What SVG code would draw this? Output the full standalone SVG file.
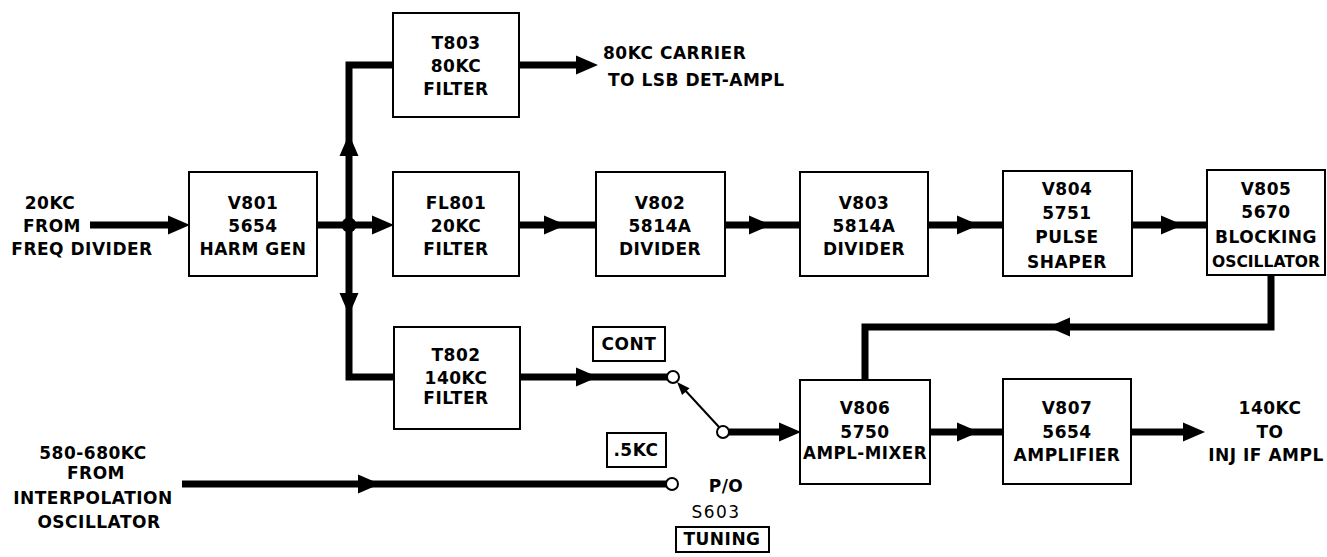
<svg xmlns="http://www.w3.org/2000/svg" xmlns:xlink="http://www.w3.org/1999/xlink" width="1327" height="557" viewBox="0 0 1327 557">
<style>
.box{fill:#fff;stroke:#000;stroke-width:2}
.t{font-family:"DejaVu Sans","Liberation Sans",sans-serif;font-weight:bold;font-size:17px;letter-spacing:0.5px;fill:#000;text-anchor:middle}
.ts{text-anchor:start}
.tn{font-weight:normal;letter-spacing:1.5px}
.tc{font-size:16px;letter-spacing:0}
.w{fill:none;stroke:#000;stroke-width:7;stroke-linejoin:miter;stroke-linecap:butt}
.thin{fill:none;stroke:#000;stroke-width:2}
.sw{fill:#fff;stroke:#000;stroke-width:2}
</style>
<defs>
<path id="ah" d="M0,0 L-22,-9.5 L-22,9.5 Z" fill="#000"/>
<path id="ahs" d="M0,0 L-13,-5 L-13,5 Z" fill="#000"/>
</defs>
<rect width="1327" height="557" fill="#fff"/>

<g id="connectors">
  <path class="w" d="M90,225 H170"/>
  <use xlink:href="#ah" transform="translate(190,225)"/>
  <path class="w" d="M317,225 H372"/>
  <circle cx="349" cy="225" r="7.5" fill="#000"/>
  <use xlink:href="#ah" transform="translate(394,225)"/>
  <path class="w" d="M394,65 H349 V377 H394"/>
  <use xlink:href="#ah" transform="translate(349,134) rotate(-90)"/>
  <use xlink:href="#ah" transform="translate(349,315) rotate(90)"/>
  <path class="w" d="M519,65 H578"/>
  <use xlink:href="#ah" transform="translate(598,65)"/>
  <path class="w" d="M519,225 H596"/>
  <use xlink:href="#ah" transform="translate(566,225)"/>
  <path class="w" d="M725,225 H800"/>
  <use xlink:href="#ah" transform="translate(771,225)"/>
  <path class="w" d="M928,225 H1003"/>
  <use xlink:href="#ah" transform="translate(979,225)"/>
  <path class="w" d="M1132,225 H1207"/>
  <use xlink:href="#ah" transform="translate(1183,225)"/>
  <path class="w" d="M1271,275 V327 H865 V380"/>
  <use xlink:href="#ah" transform="translate(1048,327) rotate(180)"/>
  <path class="w" d="M520,377 H667"/>
  <use xlink:href="#ah" transform="translate(598,377)"/>
  <path class="w" d="M182,484 H666"/>
  <use xlink:href="#ah" transform="translate(380,484)"/>
  <path class="w" d="M729,432 H782"/>
  <use xlink:href="#ah" transform="translate(801,432)"/>
  <path class="w" d="M930,432 H1003"/>
  <use xlink:href="#ah" transform="translate(979,432)"/>
  <path class="w" d="M1131,432 H1185"/>
  <use xlink:href="#ah" transform="translate(1205,432)"/>
</g>

<g id="switch_S603">
  <line class="thin" x1="719" y1="427" x2="683" y2="388"/>
  <use xlink:href="#ahs" transform="translate(677,382) rotate(-132.6)"/>
  <circle class="sw" cx="673" cy="377" r="6"/>
  <circle class="sw" cx="723" cy="432" r="6"/>
  <circle class="sw" cx="672" cy="484" r="6"/>
  <text class="t" x="726" y="492">P/O</text>
  <text class="t tn" x="716" y="518">S603</text>
</g>

<g id="label_CONT">
  <rect class="box" x="593" y="327" width="72" height="34"/>
  <text class="t" x="629" y="350">CONT</text>
</g>
<g id="label_5KC">
  <rect class="box" x="607" y="433" width="59" height="34"/>
  <text class="t" x="636" y="456">.5KC</text>
</g>
<g id="label_TUNING">
  <rect class="box" x="676" y="527" width="93" height="25"/>
  <text class="t" x="722" y="545">TUNING</text>
</g>

<g id="in_20kc">
  <text class="t" x="50" y="209">20KC</text>
  <text class="t" x="52" y="232">FROM</text>
  <text class="t" x="82" y="255">FREQ DIVIDER</text>
</g>

<g id="in_interp">
  <text class="t" x="93" y="459">580-680KC</text>
  <text class="t" x="96" y="479">FROM</text>
  <text class="t" x="93" y="504">INTERPOLATION</text>
  <text class="t" x="99" y="528">OSCILLATOR</text>
</g>

<g id="V801">
  <rect class="box" x="189" y="172" width="128" height="104"/>
  <text class="t" x="253" y="209">V801</text>
  <text class="t" x="253" y="232">5654</text>
  <text class="t" x="253" y="255">HARM GEN</text>
</g>

<g id="T803">
  <rect class="box" x="393" y="13" width="126" height="104"/>
  <text class="t" x="456" y="49">T803</text>
  <text class="t" x="456" y="72">80KC</text>
  <text class="t" x="456" y="95">FILTER</text>
</g>

<g id="out_80kc">
  <text class="t ts" x="603" y="59">80KC CARRIER</text>
  <text class="t ts" x="608" y="86">TO LSB DET-AMPL</text>
</g>

<g id="FL801">
  <rect class="box" x="393" y="172" width="126" height="104"/>
  <text class="t" x="456" y="209">FL801</text>
  <text class="t" x="456" y="232">20KC</text>
  <text class="t" x="456" y="255">FILTER</text>
</g>

<g id="V802">
  <rect class="box" x="596" y="172" width="129" height="104"/>
  <text class="t" x="660" y="209">V802</text>
  <text class="t" x="660" y="232">5814A</text>
  <text class="t" x="660" y="255">DIVIDER</text>
</g>

<g id="V803">
  <rect class="box" x="800" y="172" width="128" height="104"/>
  <text class="t" x="864" y="209">V803</text>
  <text class="t" x="864" y="232">5814A</text>
  <text class="t" x="864" y="255">DIVIDER</text>
</g>

<g id="V804">
  <rect class="box" x="1003" y="171" width="129" height="105"/>
  <text class="t" x="1067" y="195">V804</text>
  <text class="t" x="1067" y="219">5751</text>
  <text class="t" x="1067" y="243">PULSE</text>
  <text class="t" x="1067" y="268">SHAPER</text>
</g>

<g id="V805">
  <rect class="box" x="1207" y="170" width="118" height="105"/>
  <text class="t" x="1266" y="195">V805</text>
  <text class="t" x="1266" y="218">5670</text>
  <text class="t" x="1266" y="243">BLOCKING</text>
  <text class="t tc" x="1266" y="267" textLength="108" lengthAdjust="spacingAndGlyphs">OSCILLATOR</text>
</g>

<g id="T802">
  <rect class="box" x="394" y="327" width="126" height="102"/>
  <text class="t" x="456" y="361">T802</text>
  <text class="t" x="456" y="384">140KC</text>
  <text class="t" x="456" y="404">FILTER</text>
</g>

<g id="V806">
  <rect class="box" x="800" y="380" width="130" height="104"/>
  <text class="t" x="865" y="414">V806</text>
  <text class="t" x="865" y="438">5750</text>
  <text class="t" x="865" y="459" textLength="124" lengthAdjust="spacingAndGlyphs">AMPL-MIXER</text>
</g>

<g id="V807">
  <rect class="box" x="1003" y="379" width="128" height="105"/>
  <text class="t" x="1067" y="414">V807</text>
  <text class="t" x="1067" y="438">5654</text>
  <text class="t" x="1067" y="461">AMPLIFIER</text>
</g>

<g id="out_140kc">
  <text class="t" x="1270" y="414">140KC</text>
  <text class="t" x="1270" y="438">TO</text>
  <text class="t" x="1266" y="461">INJ IF AMPL</text>
</g>
</svg>
